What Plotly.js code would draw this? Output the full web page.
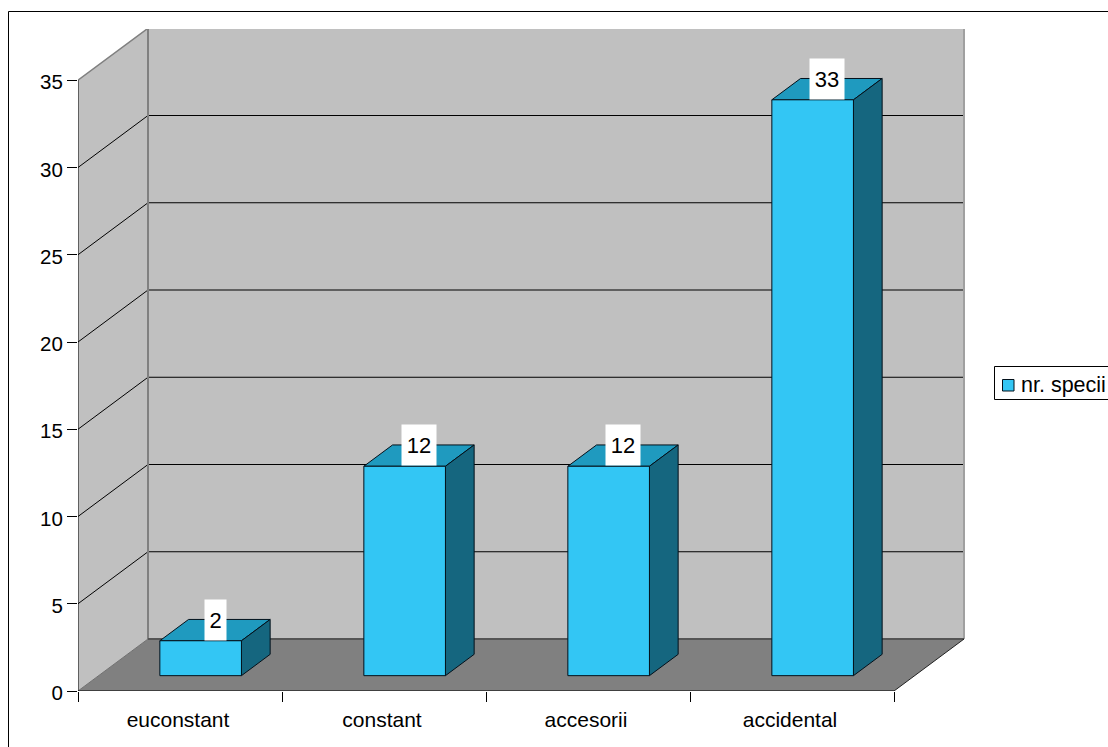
<!DOCTYPE html>
<html>
<head>
<meta charset="utf-8">
<script src="https://cdn.plot.ly/plotly-3.0.1.min.js"></script>
<style>html,body{margin:0;padding:0;background:#fff}#chart{width:1108px;height:747px}</style>
</head>
<body>
<div id="chart"></div>
<script>
// Species counts by constancy class
const categories = ["euconstant", "constant", "accesorii", "accidental"];
const speciesCounts = [2, 12, 12, 33];
const seriesName = "nr. specii";
const valueTicks = [0, 5, 10, 15, 20, 25, 30, 35];

// Plot box in pixels and the oblique projection of the chart's depth
const M = {l: 78, r: 143, t: 29, b: 56};
const W = 1108, H = 747;
const PXCAT = 204, PXVAL = 17.45, DEPTH_PX_X = 70, DEPTH_PX_Y = 52;
const plotW = W - M.l - M.r, plotH = H - M.t - M.b;
const xMax = plotW / PXCAT, yMax = plotH / PXVAL;
const dX = DEPTH_PX_X / PXCAT, dY = DEPTH_PX_Y / PXVAL;
const nCat = categories.length, vMax = valueTicks[valueTicks.length - 1];

// Projects (category position, value, depth 0..1) to axis coordinates
const px = (c, d) => c + d * dX;
const py = (v, d) => v + d * dY;

const traces = [];
function poly(points, fill, lineColor, lineWidth) {
  traces.push({
    type: "scatter", mode: lineColor ? "lines" : "none",
    x: points.map(p => px(p[0], p[2])), y: points.map(p => py(p[1], p[2])),
    fill: fill ? "toself" : "none", fillcolor: fill || undefined,
    line: {color: lineColor || "rgba(0,0,0,0)", width: lineWidth || 1},
    hoverinfo: "skip", showlegend: false, cliponaxis: false
  });
}
function line(points, color, width) { poly(points, null, color, width); }

// Walls and floor
poly([[0,0,0],[0,vMax,0],[0,vMax,1],[0,0,1]], "#c0c0c0");
poly([[0,0,1],[0,vMax,1],[nCat,vMax,1],[nCat,0,1]], "#c0c0c0");
poly([[0,0,0],[nCat,0,0],[nCat,0,1],[0,0,1]], "#808080");

// Gridlines run along the side wall and then across the back wall
valueTicks.filter(v => v > 0 && v < vMax).forEach(v => {
  line([[0,v,0],[0,v,1],[nCat,v,1]], "#000000", 1);
});

// Wall and floor edges
line([[0,vMax,0],[0,vMax,1],[nCat,vMax,1]], "#808080", 1.5);
line([[0,0,1],[0,vMax,1]], "#808080", 2);
line([[nCat,0,1],[nCat,vMax,1]], "#a0a0a0", 2);
line([[0,0,0],[0,0,1]], "#707070", 1);
line([[0,0,1],[nCat,0,1]], "#555555", 2);
line([[nCat,0,0],[nCat,0,1]], "#222222", 1);
line([[0,0,0],[nCat,0,0]], "#000000", 1);
line([[0,0,0],[0,vMax,0]], "#000000", 1);

// Boxes
const barW = 0.4, d0 = 0.295, d1 = 0.705;
const FRONT = "#33c6f4", TOP = "#1f9abf", SIDE = "#15667f", EDGE = "#03101a";
speciesCounts.forEach((v, i) => {
  const l = i + 0.5 - barW / 2, r = i + 0.5 + barW / 2;
  poly([[l,v,d0],[l,v,d1],[r,v,d1],[r,v,d0],[l,v,d0]], TOP, EDGE, 1);
  poly([[r,0,d0],[r,v,d0],[r,v,d1],[r,0,d1],[r,0,d0]], SIDE, EDGE, 1);
  poly([[l,0,d0],[l,v,d0],[r,v,d0],[r,0,d0],[l,0,d0]], FRONT, EDGE, 1);
});

// Value labels sit on the front top edge, centred on the middle of the box depth
const FONT = "Liberation Sans, Arial, sans-serif";
const annotations = speciesCounts.map((v, i) => ({
  x: px(i + 0.5, (d0 + d1) / 2), y: py(v, d0), xref: "x", yref: "y",
  text: String(v), showarrow: false, xanchor: "center", yanchor: "bottom",
  bgcolor: "#ffffff", width: String(v).length > 1 ? 32 : 19, height: 38, borderpad: 1, yshift: 0,
  font: {family: FONT, size: 22, color: "#000000"}
}));

// Pixel position to paper fraction, for the frame and key
const paperX = p => (p - M.l) / plotW;
const paperY = p => 1 - (p - M.t) / plotH;

// Key at the right of the plot
annotations.push({
  xref: "paper", yref: "paper", x: paperX(1019), y: paperY(385),
  xanchor: "left", yanchor: "middle", text: seriesName, showarrow: false,
  font: {family: FONT, size: 21.5, color: "#000000"}
});

const shapes = [
  {type: "rect", xref: "paper", yref: "paper", layer: "below",
   x0: paperX(8.5), x1: paperX(1130), y0: paperY(11.5), y1: paperY(770),
   line: {color: "#000000", width: 1}, fillcolor: "#ffffff"},
  {type: "rect", xref: "paper", yref: "paper", layer: "above",
   x0: paperX(994.5), x1: paperX(1130), y0: paperY(366.5), y1: paperY(399.5),
   line: {color: "#000000", width: 1}, fillcolor: "rgba(0,0,0,0)"},
  {type: "rect", xref: "paper", yref: "paper", layer: "above",
   x0: paperX(1002.5), x1: paperX(1014), y0: paperY(379.5), y1: paperY(391),
   line: {color: EDGE, width: 1}, fillcolor: FRONT}
];

const layout = {
  width: W, height: H, margin: {l: M.l, r: M.r, t: M.t, b: M.b, pad: 0},
  paper_bgcolor: "#ffffff", plot_bgcolor: "rgba(0,0,0,0)",
  showlegend: false, hovermode: false, annotations, shapes,
  xaxis: {
    range: [0, xMax], showgrid: false, zeroline: false, showline: false,
    tickmode: "array",
    tickvals: categories.map((c, i) => i + 0.5), ticktext: categories,
    ticks: "", ticklen: 0, ticklabelstandoff: 14, ticklabelshift: -2,
    minor: {tickmode: "array", tickvals: categories.map((c, i) => i).concat(nCat),
            ticks: "outside", ticklen: 10, tickwidth: 1, tickcolor: "#000000", showgrid: false},
    tickfont: {family: FONT, size: 21, color: "#000000"}
  },
  yaxis: {
    range: [0, yMax], showgrid: false, zeroline: false, showline: false,
    tickmode: "array", tickvals: valueTicks, ticktext: valueTicks.map(String),
    ticks: "outside", ticklen: 10, tickwidth: 1, tickcolor: "#000000",
    ticklabelshift: 2,
    tickfont: {family: FONT, size: 20.5, color: "#000000"}
  }
};

Plotly.newPlot("chart", traces, layout, {displayModeBar: false, staticPlot: true});
</script>
</body>
</html>
